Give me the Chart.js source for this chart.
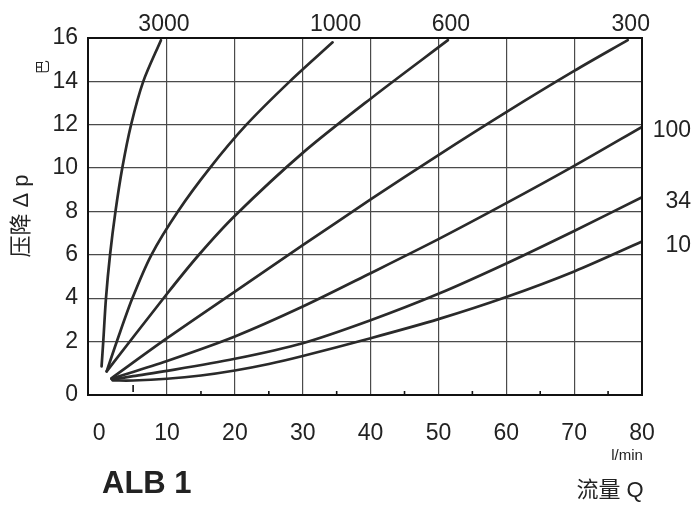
<!DOCTYPE html>
<html lang="zh">
<head>
  <meta charset="UTF-8">
  <title>ALB 1 压降曲线</title>
  <script src="https://cdn.jsdelivr.net/npm/chart.js"></script>
  <style>
    html, body { margin: 0; padding: 0; background: #fff; }
    canvas { display: block; }
  </style>
</head>
<body>
  <canvas id="dpChart" width="695" height="506"></canvas>
  <script>
    // curve labels (viscosity) and the values
    const curveNames = ['3000', '1000', '600', '300', '100', '34', '10'];

    const x3000 = [0.35, 0.6, 1.0, 1.6, 2.4, 3.4, 4.7, 6.5, 9.1];
    const y3000 = [0.85, 2, 4, 6, 8, 10, 12, 14, 15.9];

    const x1000 = [1.1, 2.6, 4.9, 7.7, 11.6, 16.3, 21.7, 28.1, 34.4];
    const y1000 = [0.62, 2, 4, 6, 8, 10, 12, 14, 15.8];

    const x600 = [1.1, 10, 14.7, 20, 30, 40, 51.4];
    const y600 = [0.62, 4.2, 6.0, 7.8, 10.7, 13.2, 15.9];

    const x300 = [1.8, 10, 20, 30, 40, 50, 60, 70, 77.9];
    const y300 = [0.3, 2.15, 4.3, 6.44, 8.55, 10.6, 12.58, 14.48, 15.9];

    const x100 = [1.8, 10, 20, 30, 40, 50, 60, 70, 80];
    const y100 = [0.28, 1.1, 2.23, 3.61, 5.15, 6.72, 8.38, 10.1, 11.9];

    const x34 = [1.9, 5, 10, 20, 30, 40, 50, 60, 70, 80];
    const y34 = [0.24, 0.4, 0.64, 1.2, 1.92, 2.98, 4.2, 5.6, 7.1, 8.65];

    const x10 = [2.0, 5, 10, 15, 20, 25, 30, 40, 50, 60, 70, 80];
    const y10 = [0.2, 0.2, 0.28, 0.43, 0.66, 0.96, 1.33, 2.15, 3.03, 4.05, 5.23, 6.61];

    const xTicks = [0, 10, 20, 30, 40, 50, 60, 70, 80];
    const xMinorTicks = [5, 15, 25, 35, 45, 55, 65, 75];
    const yTicks = [2, 4, 6, 8, 10, 12, 14, 16];

    const FONT = "'Liberation Sans', 'Noto Sans CJK SC', sans-serif";
    const Y_MIN = -0.47; // bottom edge of the grid, labelled "0" in the original

    const xs = [x3000, x1000, x600, x300, x100, x34, x10];
    const ys = [y3000, y1000, y600, y300, y100, y34, y10];

    const datasets = curveNames.map((name, i) => ({
      label: name,
      data: xs[i].map((x, j) => ({ x: x, y: ys[i][j] })),
      borderColor: '#2a2a2a',
      borderWidth: 2.7,
      borderCapStyle: 'round',
      borderJoinStyle: 'round',
      pointRadius: 0,
      tension: 0.3,
      fill: false
    }));

    // box, minor ticks and all the free text
    const decorations = {
      id: 'decorations',
      afterDraw(chart) {
        const { ctx, chartArea: a, scales } = chart;
        const sx = scales.x, sy = scales.y;
        ctx.save();

        ctx.strokeStyle = '#111';
        ctx.lineWidth = 2;
        ctx.strokeRect(a.left, a.top, a.right - a.left, a.bottom - a.top);

        ctx.lineWidth = 1.6;
        xMinorTicks.forEach(v => {
          const px = sx.getPixelForValue(v);
          ctx.beginPath();
          if (v === 5) { ctx.moveTo(px, a.bottom - 10); ctx.lineTo(px, a.bottom - 3); }
          else { ctx.moveTo(px, a.bottom - 4); ctx.lineTo(px, a.bottom); }
          ctx.stroke();
        });

        ctx.fillStyle = '#222';
        ctx.font = '23px ' + FONT;
        ctx.textBaseline = 'middle';
        chart.data.datasets.forEach((ds, i) => {
          const last = ds.data[ds.data.length - 1];
          const px = sx.getPixelForValue(last.x);
          const py = sy.getPixelForValue(last.y);
          if (i < 4) {
            ctx.textAlign = 'center';
            ctx.fillText(ds.label, px + 3, a.top - 13);
          } else {
            ctx.textAlign = 'right';
            ctx.fillText(ds.label, chart.width - 4, py + 4);
          }
        });

        ctx.textAlign = 'center';
        ctx.font = '15px ' + FONT;
        ctx.fillText('l/min', 627, 456);
        ctx.font = '22px ' + FONT;
        ctx.fillText('流量 Q', 610, 491);

        ctx.textAlign = 'left';
        ctx.font = 'bold 31px ' + FONT;
        ctx.fillText('ALB 1', 102, 484);

        ctx.save();
        ctx.translate(22, 216);
        ctx.rotate(-Math.PI / 2);
        ctx.textAlign = 'center';
        ctx.font = '22px ' + FONT;
        ctx.fillText('压降 Δ p', 0, 0);
        ctx.restore();

        ctx.save();
        ctx.translate(43, 67);
        ctx.rotate(-Math.PI / 2);
        ctx.textAlign = 'center';
        ctx.font = '14px ' + FONT;
        ctx.fillText('巴', 0, 0);
        ctx.restore();

        ctx.restore();
      }
    };

    new Chart(document.getElementById('dpChart'), {
      type: 'line',
      data: { datasets: datasets },
      options: {
        responsive: false,
        animation: false,
        layout: { padding: { top: 38, right: 53, left: 0, bottom: 0 } },
        plugins: {
          legend: { display: false },
          tooltip: { enabled: false }
        },
        scales: {
          x: {
            type: 'linear',
            min: -1.65,
            max: 80,
            afterBuildTicks: s => { s.ticks = xTicks.map(v => ({ value: v })); },
            afterFit: s => { s.height = 111; },
            grid: {
              color: c => (c.tick && c.tick.value === 0) ? 'rgba(0,0,0,0)' : '#4a4a4a',
              lineWidth: 1.2,
              drawTicks: false
            },
            border: { display: true, color: '#111', width: 2 },
            ticks: { font: { family: FONT, size: 23 }, color: '#222', padding: 25, maxRotation: 0 }
          },
          y: {
            type: 'linear',
            min: Y_MIN,
            max: 16,
            afterBuildTicks: s => { s.ticks = [Y_MIN].concat(yTicks).map(v => ({ value: v })); },
            afterFit: s => { s.width = 88; },
            grid: { color: '#4a4a4a', lineWidth: 1.2, drawTicks: false },
            border: { display: true, color: '#111', width: 2 },
            ticks: {
              font: { family: FONT, size: 23 },
              color: '#222',
              padding: 10,
              callback: v => (v < 0 ? '0' : v)
            }
          }
        }
      },
      plugins: [decorations]
    });
  </script>
</body>
</html>
